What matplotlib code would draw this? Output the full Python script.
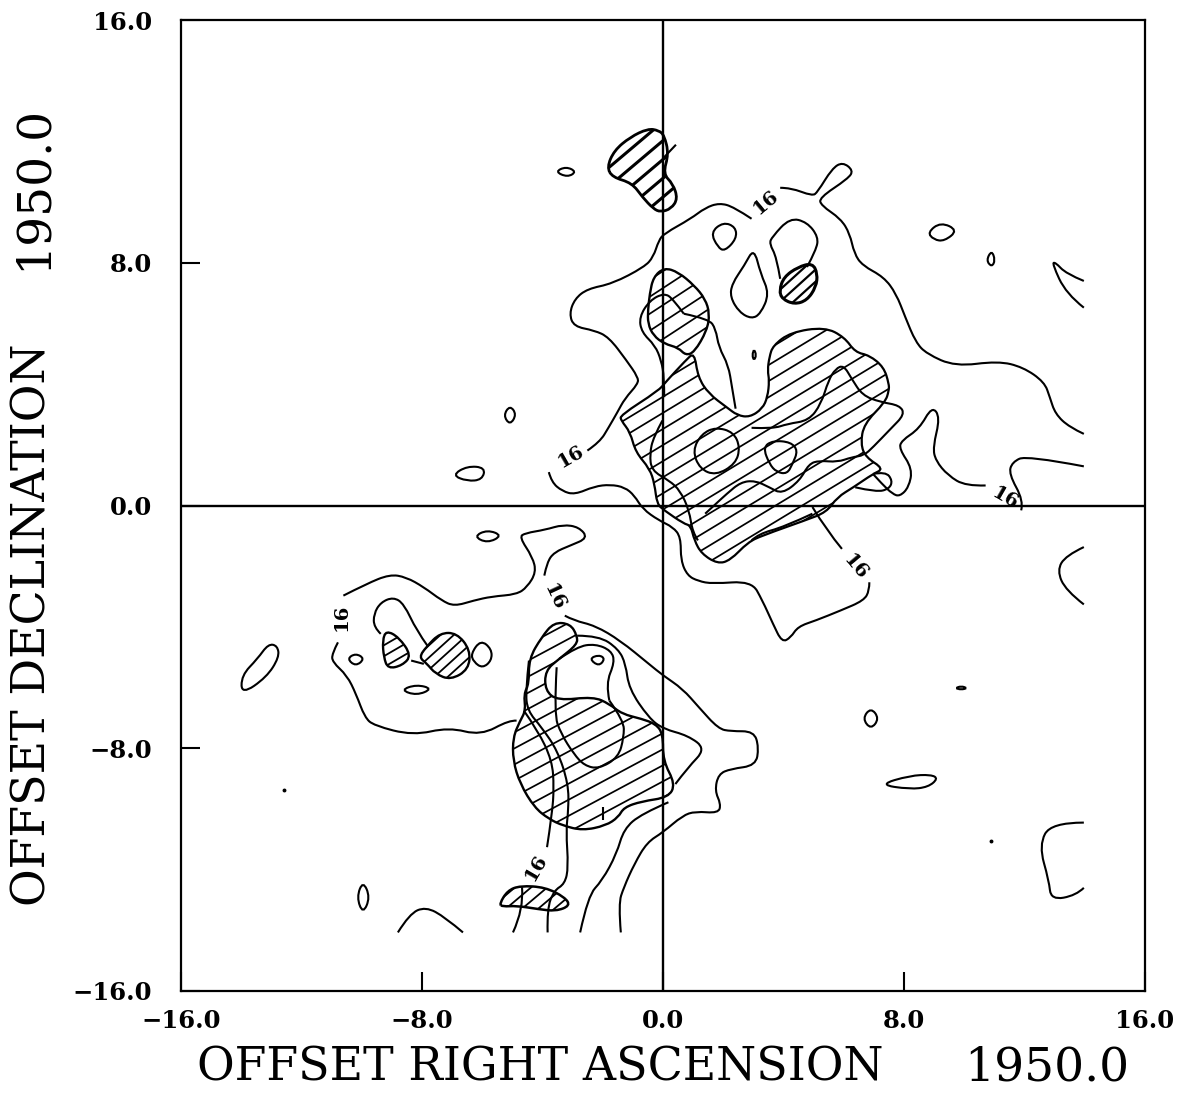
import numpy as np
import matplotlib
matplotlib.use("Agg")
import matplotlib.pyplot as plt
from matplotlib.path import Path
from matplotlib.patches import PathPatch

# contour readings, (offset RA, offset Dec)
c16_upper_left = [(2.94,9.45),(2.35,9.84),(1.87,9.97),(1.40,9.81),(0.92,9.45),(0.04,8.96),(-0.14,8.74),(-0.32,8.19),(-0.62,7.86),(-1.68,7.31),(-2.51,7.14),(-2.93,6.81),(-3.11,6.32),(-2.96,5.90),(-2.28,5.77),(-1.80,5.55),(-1.21,4.78),(-0.83,4.23),(-0.83,4.01),(-1.27,3.52),(-1.51,3.08),(-1.80,2.58),(-2.10,2.09),(-2.51,1.81)]
c16_lower = [(-3.79,1.10),(-3.70,0.77),(-3.34,0.47),(-2.93,0.36),(-2.28,0.63),(-1.75,0.69),(-1.27,0.60),(-0.95,0.33),(-0.68,-0.11),(-0.14,-0.49),(0.33,-0.71),(0.59,-1.04),(0.59,-1.81),(0.81,-2.31),(1.17,-2.49),(1.64,-2.58),(2.94,-2.49),(3.30,-3.13),(3.65,-3.90),(3.95,-4.51),(4.24,-4.35),(4.48,-3.99),(5.07,-3.79),(5.90,-3.46),(6.67,-3.13),(6.85,-2.80),(6.85,-2.53)]
c16_lower_end = [(5.94,-1.43),(5.43,-0.82),(4.96,-0.05)]
c16_upper_right = [(3.89,10.47),(4.24,10.47),(4.96,10.20),(5.13,10.33),(5.61,11.10),(5.96,11.32),(6.32,11.04),(6.14,10.77),(5.19,10.14),(5.25,9.89),(5.90,9.45),(6.20,8.96),(6.35,8.30),(6.62,7.91),(7.33,7.53),(7.74,6.98),(8.04,6.21),(8.39,5.38),(8.75,5.00),(9.70,4.58),(11.12,4.76),(11.95,4.56),(12.66,4.07),(12.84,3.57),(13.02,3.02),(13.49,2.58),(13.97,2.36)]
c16_right_a = [(10.71,0.66),(10.05,0.64),(9.46,0.99),(9.05,1.48),(8.96,1.92),(9.20,2.91),(8.93,3.27),(8.51,2.53),(7.92,2.14),(7.84,1.87),(8.28,1.21),(8.16,0.60),(7.86,0.30),(7.62,0.38),(7.27,0.71),(6.97,1.04)]
c16_right_b = [(11.89,-0.16),(11.97,0.16),(11.48,1.04),(11.59,1.43),(12.07,1.65),(13.97,1.29)]
right_arc = [(13.97,-1.37),(13.37,-1.65),(13.08,-2.14),(13.37,-2.80),(13.97,-3.26)]
wedge_ne = [(13.97,7.40),(13.38,7.64),(13.02,8.02),(12.92,7.97),(13.38,6.98),(13.97,6.52)]
loop_ne = [(3.89,7.47),(3.77,8.19),(3.53,8.63),(3.62,8.85),(4.21,9.48),(4.78,9.34),(5.16,8.85),(5.08,8.41),(4.78,7.86)]
loop_centre = [(0.69,6.32),(0.33,6.81),(0.04,7.0),(-0.44,6.76),(-0.79,6.21),(-0.71,5.71),(-0.26,5.27),(-0.06,4.78),(0.04,4.23),(0.04,3.57)]
ridge_centre = [(0.69,6.32),(1.52,6.15),(1.75,5.82),(1.85,5.22),(2.17,4.62),(2.29,3.90),(2.41,3.19)]
wavy_main = [(2.94,2.56),(3.65,2.53),(4.13,2.69),(4.84,2.80),(5.25,3.35),(5.49,4.12),(5.73,4.51),(6.0,4.62),(6.26,4.18),(6.62,3.63),(7.21,3.41),(7.86,3.30),(8.02,3.0),(7.56,2.53),(6.97,1.92),(6.67,1.65),(6.26,1.59),(5.79,1.43),(5.19,1.48),(4.84,1.37),(4.54,0.82),(3.95,0.38),(3.53,0.60),(3.06,0.82),(2.58,0.77),(2.11,0.38),(1.75,0.05),(1.40,-0.27)]
lobe_main = [(6.38,0.60),(7.09,0.44),(7.51,0.55),(7.62,0.82),(7.39,1.12),(6.97,1.04)]
left_main = [(-0.02,2.80),(-0.32,2.25),(-0.44,1.70),(-0.38,1.15),(0.21,0.82),(0.57,0.49),(0.87,-0.16),(0.98,-0.88),(1.16,-1.15)]
under_main = [(4.96,-0.27),(4.01,-0.71),(3.18,-0.93),(2.94,-1.15)]
c16_sw_top = [(-10.61,-2.97),(-9.84,-2.58),(-9.07,-2.27),(-8.53,-2.36),(-7.94,-2.69),(-7.35,-3.13),(-6.93,-3.32),(-6.28,-3.13),(-5.69,-3.0),(-4.86,-2.93),(-4.51,-2.69),(-4.21,-2.20),(-4.33,-1.70),(-4.77,-1.04),(-4.57,-0.91),(-3.91,-0.80),(-3.32,-0.63),(-2.79,-0.71),(-2.49,-1.07),(-3.08,-1.32),(-3.61,-1.54),(-3.85,-1.87),(-3.94,-2.31)]
c16_sw_left = [(-10.79,-4.51),(-10.99,-4.89),(-10.97,-5.16),(-10.49,-5.60),(-10.19,-6.21),(-9.90,-6.98),(-9.60,-7.25),(-8.30,-7.58),(-7.11,-7.31),(-6.05,-7.58),(-5.10,-7.07),(-4.86,-7.09)]
sw_inner_a = [(-4.45,-5.11),(-4.56,-6.10),(-4.50,-6.76),(-4.03,-7.31),(-3.50,-8.08),(-3.14,-9.18),(-3.14,-10.05),(-3.22,-10.71),(-3.14,-11.92),(-3.26,-12.47),(-3.62,-12.69),(-3.85,-13.3),(-3.83,-14.07)]
sw_inner_b = [(-4.62,-6.76),(-4.15,-7.42),(-3.68,-8.41),(-3.62,-9.29),(-3.68,-10.16),(-3.85,-11.26)]
sw_inner_b2 = [(-4.68,-12.58),(-4.62,-13.3),(-4.98,-14.07)]
sw_blob = [(-3.53,-5.33),(-3.62,-6.87),(-3.38,-7.53),(-2.96,-8.19),(-2.61,-8.57),(-2.13,-8.68),(-1.48,-8.30),(-1.30,-7.64),(-1.30,-7.09),(-1.78,-6.43)]
sw_outer = [(-3.26,-3.63),(-2.96,-3.79),(-2.25,-3.96),(-1.42,-4.45),(-0.47,-5.22),(0,-5.60),(0.65,-6.04),(1.19,-6.65),(1.84,-7.36),(2.25,-7.44),(3.02,-7.44),(3.18,-7.97),(3.08,-8.57),(2.25,-8.68),(1.84,-8.85),(1.72,-9.40),(1.92,-9.84),(1.84,-10.14),(1.07,-10.08),(0.65,-10.22),(0,-10.77),(-0.53,-11.10),(-0.95,-11.81),(-1.30,-12.58),(-1.48,-13.13),(-1.40,-14.07)]
sw_second = [(-2.85,-4.29),(-2.13,-4.29),(-1.48,-4.73),(-1.24,-5.22),(-1.13,-6.04),(-0.47,-7.0),(0,-7.36),(0.83,-7.58),(1.42,-8.02),(0.83,-8.63),(0.41,-9.18)]
sw_third = [(-3.44,-5.05),(-2.85,-4.65),(-2.25,-4.56),(-1.72,-4.78),(-1.60,-5.16),(-1.90,-5.88),(-1.78,-6.43)]
sw_lower = [(0.18,-9.78),(-0.71,-10.16),(-1.30,-10.66),(-1.54,-11.48),(-2.02,-12.36),(-2.49,-12.86),(-2.75,-14.07)]
west_loop = [(-9.37,-4.23),(-9.60,-4.01),(-9.60,-3.57),(-9.37,-3.19),(-8.95,-3.02),(-8.60,-3.24),(-8.18,-4.12),(-7.82,-4.62)]
west_link = [(-8.36,-5.11),(-7.94,-5.22)]
bottom_arc = [(-8.80,-14.07),(-8.42,-13.46),(-7.88,-13.22),(-7.23,-13.57),(-6.64,-14.07)]
se_arc = [(13.97,-10.45),(12.88,-10.45),(12.48,-11.2),(12.81,-12.36),(12.88,-13.0),(13.71,-12.85),(13.97,-12.6)]
spike_top = [(0.43,11.89),(0.04,11.48)]
nick_sw = [(-2.0,-9.95),(-2.0,-10.35)]
open_lines = [c16_upper_left, c16_lower, c16_lower_end, c16_upper_right, c16_right_a, c16_right_b, right_arc,
              wedge_ne, loop_ne, loop_centre, ridge_centre, wavy_main, lobe_main, left_main, under_main,
              c16_sw_top, c16_sw_left, sw_inner_a, sw_inner_b, sw_inner_b2, sw_blob, sw_outer, sw_second,
              sw_third, sw_lower, west_loop, west_link, bottom_arc, se_arc, spike_top, nick_sw]

# closed islands
oval_a = [(-3.58,11.0),(-3.22,11.17),(-2.87,11.0),(-3.17,10.82)]
oval_b = [(1.58,9.0),(2.0,9.34),(2.41,9.18),(2.44,8.79),(2.05,8.38),(1.82,8.51)]
drop_ne = [(3.02,8.49),(2.70,7.91),(2.29,7.31),(2.23,6.87),(2.53,6.37),(2.94,6.15),(3.24,6.32),(3.53,6.98),(3.24,7.64)]
oval_c = [(8.78,9.0),(9.22,9.34),(9.79,9.07),(9.34,8.71),(8.99,8.76)]
oval_d = [(10.73,8.08),(10.91,8.41),(11.03,8.08),(10.91,7.86)]
speck_a = [(3.02,5.16),(3.10,4.95),(3.02,4.78),(2.96,4.95)]
circle_main = [(0.98,1.81),(1.28,2.36),(1.75,2.58),(2.34,2.42),(2.56,1.92),(2.41,1.37),(1.75,0.99),(1.22,1.21)]
blob_main = [(3.32,1.92),(3.65,2.14),(4.24,2.09),(4.48,1.81),(4.30,1.37),(4.12,1.04),(3.77,1.10),(3.53,1.37)]
oval_sw = [(-2.45,-5.05),(-2.13,-4.92),(-1.92,-5.05),(-2.13,-5.30)]
oval_e = [(-6.38,-4.89),(-6.05,-4.43),(-5.69,-4.73),(-5.69,-5.11),(-5.99,-5.36),(-6.28,-5.16)]
oval_f = [(-10.49,-5.05),(-10.20,-4.87),(-9.90,-5.05),(-10.20,-5.30)]
oval_g = [(-8.71,-6.08),(-8.18,-5.90),(-7.65,-6.04),(-8.18,-6.26)]
oval_h = [(-6.28,-1.02),(-5.83,-0.80),(-5.33,-0.99),(-5.83,-1.24)]
west_arc = [(-13.99,-5.60),(-13.46,-5.05),(-13.10,-4.56),(-12.80,-4.62),(-12.74,-5.0),(-13.16,-5.66),(-13.99,-6.23)]
oval_i = [(-10.17,-12.91),(-9.96,-12.37),(-9.72,-12.91),(-9.96,-13.46)]
oval_j = [(6.62,-7.02),(6.9,-6.66),(7.18,-7.02),(6.9,-7.38)]
speck_b = [(9.7,-6.02),(9.9,-5.95),(10.1,-6.02),(9.9,-6.07)]
lens_se = [(7.17,-9.2),(8.2,-8.9),(8.9,-8.87),(9.13,-9.0),(8.8,-9.28),(8.2,-9.35)]
oval_k = [(-5.3,2.97),(-5.08,3.3),(-4.86,3.0),(-5.08,2.65)]
oval_l = [(-7.0,1.0),(-6.5,1.3),(-5.9,1.25),(-6.0,0.85),(-6.5,0.8)]
closed_lines = [oval_a, oval_b, drop_ne, oval_c, oval_d, speck_a, circle_main, blob_main, oval_sw, oval_e, oval_f,
                oval_g, oval_h, west_arc, oval_i, oval_j, speck_b, lens_se, oval_k, oval_l]

# hatched areas: outline, hatch slope in degrees, hatch spacing in Dec, edge width, hatch width
hatch_top = [(-1.86,11.15),(-1.62,11.70),(-1.09,12.14),(-0.50,12.42),(-0.14,12.36),(0.04,12.20),(0.19,11.59),(0,10.93),(0.33,10.60),(0.49,10.11),(0.27,9.78),(-0.08,9.67),(-0.32,9.78),(-0.68,10.16),(-1.03,10.63),(-1.68,10.82)]
hatch_ne = [(3.86,7.09),(4.01,7.53),(4.48,7.86),(4.96,7.99),(5.13,7.64),(5.08,7.20),(4.78,6.76),(4.36,6.63),(3.95,6.81)]
hatch_centre = [(-0.44,6.98),(-0.32,7.53),(0.04,7.84),(0.51,7.69),(1.04,7.25),(1.40,6.81),(1.55,6.32),(1.46,5.77),(1.04,5.05),(0.75,4.95),(0.51,5.20),(0.04,5.33),(-0.32,5.60),(-0.50,5.99),(-0.50,6.43)]
hatch_main = [(3.47,4.45),(3.53,4.89),(3.65,5.27),(4.24,5.71),(5.37,5.88),(6.02,5.55),(6.38,5.05),(6.85,4.95),(7.33,4.56),(7.50,4.01),(7.50,3.79),(7.38,3.41),(6.67,2.69),(6.56,2.03),(6.73,1.59),(7.33,1.21),(6.97,1.04),(6.32,0.60),(5.78,0.27),(5.43,-0.22),(4.72,-0.49),(3.30,-0.99),(2.82,-1.21),(2.23,-1.81),(1.81,-1.92),(1.28,-1.59),(1.04,-1.15),(0.92,-0.66),(0.69,-0.60),(0.04,-0.16),(-0.20,0.05),(-0.28,0.71),(-0.44,1.21),(-0.91,1.76),(-1.09,2.42),(-1.39,2.80),(-1.42,2.97),(-0.14,3.79),(0.09,4.07),(0.75,4.78),(1.04,5.05),(1.16,4.23),(1.52,3.68),(2.11,3.24),(2.47,2.97),(2.88,2.91),(3.30,3.19),(3.47,3.57),(3.53,4.12)]
hatch_sw = [(-3.50,-6.43),(-2.31,-6.30),(-1.78,-6.54),(-1.36,-6.87),(-0.71,-7.03),(-0.24,-7.20),(0,-7.53),(0,-8.41),(0.41,-9.18),(0.18,-9.62),(-0.71,-9.75),(-1.30,-9.95),(-1.48,-10.27),(-1.90,-10.55),(-2.67,-10.71),(-3.32,-10.55),(-3.79,-10.33),(-4.27,-9.95),(-4.74,-9.18),(-4.98,-8.41),(-4.98,-7.64),(-4.74,-7.09),(-4.56,-6.76),(-4.62,-6.21),(-4.45,-5.88),(-4.45,-5.05),(-4.03,-4.34),(-3.62,-3.85),(-3.08,-3.90),(-2.85,-4.29),(-2.85,-4.58),(-3.44,-5.05),(-3.91,-5.44),(-3.91,-6.10)]
hatch_bottom = [(-5.43,-13.13),(-5.16,-12.69),(-4.74,-12.53),(-3.91,-12.58),(-3.26,-12.91),(-3.08,-13.19),(-3.56,-13.37),(-4.15,-13.30),(-4.86,-13.19),(-5.33,-13.22)]
hatch_west_a = [(-7.85,-4.65),(-7.4,-4.2),(-6.85,-4.2),(-6.4,-4.75),(-6.45,-5.4),(-7.05,-5.75),(-7.55,-5.55),(-7.85,-5.2),(-8.1,-5.0)]
hatch_west_b = [(-9.19,-4.12),(-8.77,-4.34),(-8.35,-4.94),(-8.65,-5.27),(-9.13,-5.38),(-9.27,-5.0),(-9.31,-4.45)]
hatched = [(hatch_top, 40, 0.62, 2.0, 2.2), (hatch_ne, 42, 0.4, 2.2, 1.6), (hatch_centre, 33, 0.56, 1.7, 1.25),
           (hatch_main, 31, 0.53, 1.6, 1.25), (hatch_sw, 28, 0.53, 1.7, 1.25), (hatch_bottom, 40, 0.45, 1.8, 1.3),
           (hatch_west_a, 42, 0.4, 1.7, 1.3), (hatch_west_b, 30, 0.36, 1.7, 1.3)]

# level labels: x, y, rotation
label_x = [3.41, -3.05, 11.36, 6.38, -3.62, -10.67, -4.21]
label_y = [10.0, 1.59, 0.22, -2.03, -3.02, -3.68, -11.92]
label_rot = [40, 30, -30, -50, -65, 90, 60]

ticks = [-16, -8, 0, 8, 16]
tick_labels = ["\u221216.0", "\u22128.0", "0.0", "8.0", "16.0"]


def curve(points, closed=False):
    # smooth outline through the midpoints of the readings
    p = np.array(points, dtype=float)
    if closed:
        mids = (p + np.roll(p, -1, axis=0)) / 2
        verts = [mids[-1]]
        codes = [Path.MOVETO]
        for i in range(len(p)):
            verts += [p[i], mids[i]]
            codes += [Path.CURVE3, Path.CURVE3]
        return Path(verts, codes)
    verts = [p[0]]
    codes = [Path.MOVETO]
    for i in range(1, len(p) - 1):
        end = (p[i] + p[i + 1]) / 2 if i < len(p) - 2 else p[-1]
        verts += [p[i], end]
        codes += [Path.CURVE3, Path.CURVE3]
    if len(p) == 2:
        verts.append(p[1])
        codes.append(Path.LINETO)
    return Path(verts, codes)


fig = plt.figure(figsize=(11.79, 10.93), dpi=100)
ax = fig.add_axes([181 / 1179, 1 - 991 / 1093, 964 / 1179, 971 / 1093])
ax.set_xlim(-16, 16)
ax.set_ylim(-16, 16)

ax.axhline(0, color="black", lw=1.7, zorder=1)
ax.axvline(0, color="black", lw=1.7, zorder=1)

for pts in open_lines:
    ax.add_patch(PathPatch(curve(pts), fc="none", ec="black", lw=1.5, zorder=3))
for pts in closed_lines:
    ax.add_patch(PathPatch(curve(pts, closed=True), fc="none", ec="black", lw=1.5, zorder=3))

xs = np.array([-16.0, 16.0])
for pts, slope, step, width, hwidth in hatched:
    patch = PathPatch(curve(pts, closed=True), fc="none", ec="black", lw=width, zorder=3)
    ax.add_patch(patch)
    tan = np.tan(np.radians(slope))
    cx, cy = np.mean(pts, axis=0)
    for k in range(-70, 71):
        line, = ax.plot(xs, cy + k * step + tan * (xs - cx), color="black", lw=hwidth, zorder=2)
        line.set_clip_path(patch)

ax.plot([10.89, -12.59], [-11.07, -9.37], "o", color="black", ms=1.8)

for x, y, rot in zip(label_x, label_y, label_rot):
    ax.text(x, y, "16", rotation=rot, ha="center", va="center", fontsize=14,
            family="DejaVu Serif", fontweight="bold", zorder=4)

ax.set_xticks(ticks)
ax.set_yticks(ticks)
ax.set_xticklabels(tick_labels, family="DejaVu Serif", fontweight="bold", fontsize=17.5)
ax.set_yticklabels(tick_labels, family="DejaVu Serif", fontweight="bold", fontsize=17.5)
ax.tick_params(direction="in", length=14, width=1.5, top=False, right=False)
ax.tick_params(axis="x", pad=13)
ax.tick_params(axis="y", pad=21)
for spine in ax.spines.values():
    spine.set_linewidth(1.6)

fig.text(197 / 1179, 1 - 1068 / 1093, "OFFSET RIGHT ASCENSION", family="DejaVu Serif",
         fontsize=33, ha="left", va="center")
fig.text(1129 / 1179, 1 - 1068 / 1093, "1950.0", family="DejaVu Serif", fontsize=34, ha="right", va="center")
fig.text(33 / 1179, 1 - 906 / 1093, "OFFSET DECLINATION", family="DejaVu Serif", fontsize=33,
         rotation=90, ha="center", va="bottom")
fig.text(33 / 1179, 1 - 270 / 1093, "1950.0", family="DejaVu Serif", fontsize=34,
         rotation=90, ha="center", va="bottom")

fig.savefig("out.png", dpi=100)
